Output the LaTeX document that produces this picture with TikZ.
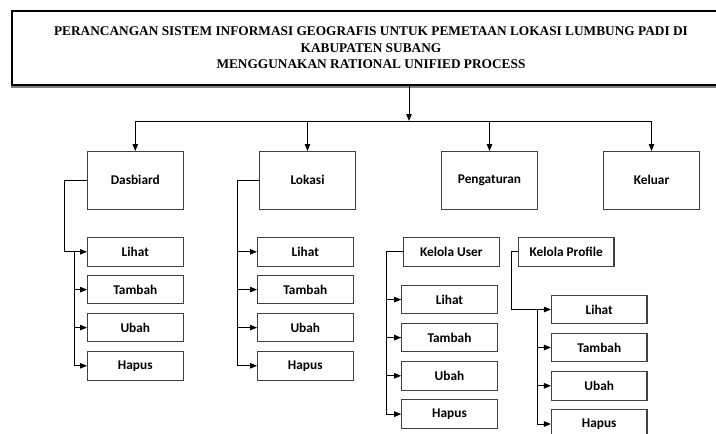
\documentclass[tikz,border=0pt]{standalone}
\usepackage{fontspec}
\newfontfamily\boxfont{Carlito}
\newfontfamily\titlefont{Liberation Serif}
\usetikzlibrary{arrows.meta}
\begin{document}
\begin{tikzpicture}[x=1pt,y=-1pt,
  titlebox/.style={draw=black, line width=2.6pt, minimum width=718pt, minimum height=74pt,
    align=center, inner sep=0pt, font=\titlefont\bfseries\fontsize{13.33}{16.4}\selectfont},
  box/.style={draw=black!75, line width=1.1pt, minimum width=95.5pt, minimum height=57.5pt,
    inner sep=0pt, font=\boxfont\bfseries\fontsize{13.33}{16}\selectfont},
  sub/.style={box, minimum height=28.5pt},
  conn/.style={draw=black, line width=1pt},
  arr/.style={conn, -{Triangle[length=7pt,width=5.5pt]}}]
\useasboundingbox (0,0) rectangle (716,434);
\clip (0,0) rectangle (716,434);
\fill[white] (0,0) rectangle (716,434);
% title
\node[titlebox] (title) at (371,48) {PERANCANGAN SISTEM INFORMASI GEOGRAFIS UNTUK PEMETAAN LOKASI LUMBUNG PADI DI\\KABUPATEN SUBANG\\MENGGUNAKAN RATIONAL UNIFIED PROCESS};
\draw[black!50, line width=1.3pt] ([yshift=-0.6pt]title.south west) -- ([yshift=-0.6pt]title.south east);
% top level
\node[box] (dasb) at (135.3,180.3) {Dasbiard};
\node[box] (lok) at (307.5,180.3) {Lokasi};
\node[box] (peng) at (489.5,180.3) {Pengaturan};
\node[box] (kel) at (651.5,180.3) {Keluar};
\coordinate (hub) at (409,121);
\draw[arr] (title.south -| hub) -- (hub);
\draw[conn] (dasb.north |- hub) -- (kel.north |- hub);
\draw[arr] (dasb.north |- hub) -- (dasb.north);
\draw[arr] (lok.north |- hub) -- (lok.north);
\draw[arr] (peng.north |- hub) -- (peng.north);
\draw[arr] (kel.north |- hub) -- (kel.north);
% Dasbiard subs
\node[sub] (dl) at (135.3,251.8) {Lihat};
\node[sub] (dt) at (135.3,289.6) {Tambah};
\node[sub] (du) at (135.3,327.6) {Ubah};
\node[sub] (dh) at (135.3,365.8) {Hapus};
\coordinate (dv1) at (64.7,180.3);
\coordinate (dv2) at (74,251.8);
\draw[arr] (dasb.west) -- (dv1) |- (dl.west);
\draw[arr] (dv2) |- (dh.west);
\draw[arr] (dv2 |- dt.west) -- (dt.west);
\draw[arr] (dv2 |- du.west) -- (du.west);
% Lokasi subs
\node[sub] (ll) at (305.3,251.8) {Lihat};
\node[sub] (lt) at (305.3,289.6) {Tambah};
\node[sub] (lu) at (305.3,327.6) {Ubah};
\node[sub] (lh) at (305.3,365.8) {Hapus};
\coordinate (lv) at (237.7,180.3);
\draw[arr] (lok.west) -- (lv) |- (lh.west);
\draw[arr] (lv |- ll.west) -- (ll.west);
\draw[arr] (lv |- lt.west) -- (lt.west);
\draw[arr] (lv |- lu.west) -- (lu.west);
% Pengaturan: Kelola User
\node[sub] (ku) at (451.3,251.8) {Kelola User};
\node[sub] (ul) at (449.5,299.6) {Lihat};
\node[sub] (ut) at (449.5,337.6) {Tambah};
\node[sub] (uu) at (449.5,375.8) {Ubah};
\node[sub] (uh) at (449.5,414.1) {Hapus};
\coordinate (uv) at (386.7,251.8);
\draw[arr] (ku.west) -- (uv) |- (uh.west);
\draw[arr] (uv |- ul.west) -- (ul.west);
\draw[arr] (uv |- ut.west) -- (ut.west);
\draw[arr] (uv |- uu.west) -- (uu.west);
% Pengaturan: Kelola Profile
\node[sub] (kp) at (566.2,251.8) {Kelola Profile};
\node[sub] (pl) at (599.2,309.5) {Lihat};
\node[sub] (pt) at (599.2,347.5) {Tambah};
\node[sub] (pu) at (599.2,385.8) {Ubah};
\node[sub] (ph) at (599.2,424) {Hapus};
\coordinate (pv1) at (511.7,251.8);
\coordinate (pv2) at (537.7,309.5);
\draw[arr] (kp.west) -- (pv1) |- (pl.west);
\draw[arr] (pv2) |- (ph.west);
\draw[arr] (pv2 |- pt.west) -- (pt.west);
\draw[arr] (pv2 |- pu.west) -- (pu.west);
\end{tikzpicture}
\end{document}
